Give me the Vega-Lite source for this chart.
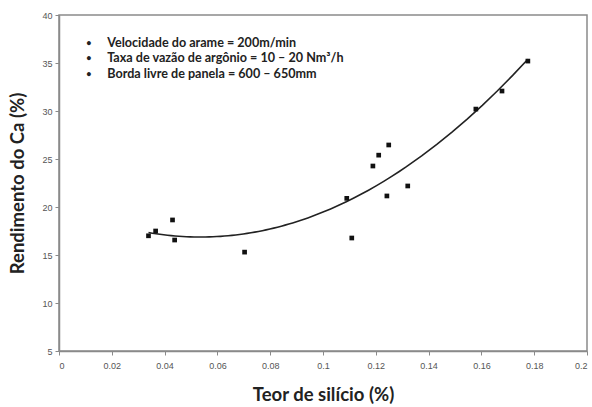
{
  "$schema": "https://vega.github.io/schema/vega-lite/v6.json",
  "width": 528,
  "height": 336,
  "autosize": {"type": "none"},
  "padding": {"left": 59, "top": 15, "right": 5, "bottom": 56},
  "background": "white",
  "config": {
    "view": {"stroke": "#8a8a8a", "strokeWidth": 1.5},
    "axis": {
      "grid": false,
      "domainColor": "#8a8a8a",
      "domainWidth": 1.5,
      "tickColor": "#8a8a8a",
      "tickSize": 4,
      "labelFont": "Liberation Sans",
      "labelFontSize": 9,
      "labelColor": "#555555",
      "titleFont": "Lato",
      "titleFontSize": 18.5,
      "titleFontWeight": "bold",
      "titleColor": "#222222"
    }
  },
  "datasets": {
    "pts": [
      {"si": 0.0339, "ca": 17.0},
      {"si": 0.0366, "ca": 17.5},
      {"si": 0.0430, "ca": 18.65},
      {"si": 0.0438, "ca": 16.56},
      {"si": 0.0703, "ca": 15.3},
      {"si": 0.1090, "ca": 20.9},
      {"si": 0.1109, "ca": 16.77},
      {"si": 0.1189, "ca": 24.27},
      {"si": 0.1211, "ca": 25.4},
      {"si": 0.1242, "ca": 21.15},
      {"si": 0.1249, "ca": 26.46},
      {"si": 0.1321, "ca": 22.19},
      {"si": 0.1579, "ca": 30.2},
      {"si": 0.1678, "ca": 32.08},
      {"si": 0.1776, "ca": 35.2}
    ],
    "notes": [
      {"x": 0.0103, "y": 37.05, "label": "Velocidade do arame = 200m/min"},
      {"x": 0.0103, "y": 35.49, "label": "Taxa de vazão de argônio = 10 – 20 Nm³/h"},
      {"x": 0.0103, "y": 33.85, "label": "Borda livre de panela = 600 – 650mm"}
    ]
  },
  "layer": [
    {
      "data": {"name": "pts"},
      "transform": [
        {"regression": "ca", "on": "si", "method": "poly", "order": 2, "extent": [0.0339, 0.1776]}
      ],
      "mark": {"type": "line", "color": "#222222", "strokeWidth": 1.6},
      "encoding": {
        "x": {"field": "si", "type": "quantitative"},
        "y": {"field": "ca", "type": "quantitative"}
      }
    },
    {
      "data": {"name": "pts"},
      "mark": {"type": "point", "shape": "square", "filled": true, "color": "#111111", "size": 22, "opacity": 1},
      "encoding": {
        "x": {
          "field": "si", "type": "quantitative",
          "scale": {"domain": [0, 0.2], "nice": false, "zero": false},
          "axis": {
            "title": "Teor de silício (%)",
            "values": [0, 0.02, 0.04, 0.06, 0.08, 0.1, 0.12, 0.14, 0.16, 0.18, 0.2],
            "format": "~g",
            "labelPadding": 6,
            "titlePadding": 15
          }
        },
        "y": {
          "field": "ca", "type": "quantitative",
          "scale": {"domain": [5, 40], "nice": false, "zero": false},
          "axis": {
            "title": "Rendimento do Ca (%)",
            "values": [5, 10, 15, 20, 25, 30, 35, 40],
            "labelPadding": 3,
            "titlePadding": 14
          }
        }
      }
    },
    {
      "data": {"name": "notes"},
      "mark": {"type": "text", "text": "•", "align": "left", "baseline": "middle", "fontSize": 9, "color": "#222222", "font": "Lato", "fontWeight": "bold"},
      "encoding": {
        "x": {"field": "x", "type": "quantitative"},
        "y": {"field": "y", "type": "quantitative"}
      }
    },
    {
      "data": {"name": "notes"},
      "mark": {"type": "text", "align": "left", "baseline": "middle", "dx": 21, "fontSize": 12.6, "color": "#222222", "font": "Lato", "fontWeight": "bold"},
      "encoding": {
        "x": {"field": "x", "type": "quantitative"},
        "y": {"field": "y", "type": "quantitative"},
        "text": {"field": "label"}
      }
    }
  ]
}
